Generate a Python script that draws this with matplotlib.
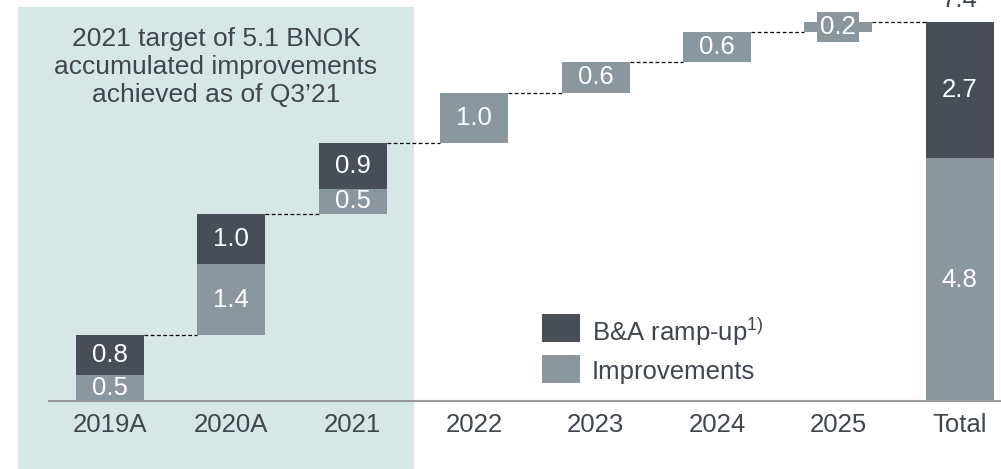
import matplotlib
matplotlib.use('Agg')
import matplotlib.pyplot as plt
import matplotlib.patches as mpatches
import numpy as np

# data (BNOK)
categories = ['2019A', '2020A', '2021', '2022', '2023', '2024', '2025', 'Total']
improvements = [0.5, 1.4, 0.5, 1.0, 0.6, 0.6, 0.2]
ba_rampup = [0.8, 1.0, 0.9, 0.0, 0.0, 0.0, 0.0]
total_improvements = 4.8
total_ba = 2.7
total_label = '7.4'
note = "2021 target of 5.1 BNOK\naccumulated improvements\nachieved as of Q3\u201921"

DARK = '#474e57'
LIGHT = '#8b979f'
SHADE = '#d6e8e6'
TXT = '#40464d'

plt.rcParams['font.family'] = ['Liberation Sans', 'DejaVu Sans']
plt.rcParams['mathtext.fontset'] = 'custom'
plt.rcParams['mathtext.rm'] = 'Liberation Sans'

W, H = 1001, 469
fig = plt.figure(figsize=(W / 100, H / 100), dpi=100)
fs = 18.5


def fx(px):
    return px / W


def fy(py):
    return 1 - py / H


# shaded box behind the historical years
fig.add_artist(mpatches.Rectangle((fx(18), 0), fx(414) - fx(18), fy(7),
                                  transform=fig.transFigure, facecolor=SHADE,
                                  edgecolor='none', zorder=-1))
fig.text(fx(216), fy(27), note, ha='center', va='top', fontsize=19,
         color=TXT, linespacing=1.22)

base_px = 400.7
ax = fig.add_axes([fx(49), fy(base_px), 1 - fx(49), base_px / H])
ax.patch.set_alpha(0)
ax.set_ylim(0, base_px / 50.5)
ax.set_xlim(-0.502, 7.34)

x = np.arange(len(categories))
w = 0.56
label_kw = dict(ha='center', va='center', color='white', fontsize=fs)

level = 0.0
tops = []
for i in range(len(improvements)):
    imp, ba = improvements[i], ba_rampup[i]
    ax.bar(x[i], imp, w, bottom=level, color=LIGHT, zorder=2)
    if imp < 0.3:
        ax.text(x[i], level + imp / 2, f'{imp:.1f}', zorder=3,
                bbox=dict(boxstyle='square,pad=0.12', fc=LIGHT, ec='none'),
                **label_kw)
    else:
        ax.text(x[i], level + imp / 2, f'{imp:.1f}', zorder=3, **label_kw)
    if ba > 0:
        ax.bar(x[i], ba, w, bottom=level + imp, color=DARK, zorder=2)
        ax.text(x[i], level + imp + ba / 2, f'{ba:.1f}', zorder=3, **label_kw)
    level += imp + ba
    tops.append(level)

# total bar
ti = len(categories) - 1
ax.bar(x[ti], total_improvements, w, color=LIGHT, zorder=2)
ax.bar(x[ti], total_ba, w, bottom=total_improvements, color=DARK, zorder=2)
ax.text(x[ti], total_improvements / 2, f'{total_improvements:.1f}', **label_kw)
ax.text(x[ti], total_improvements + total_ba / 2, f'{total_ba:.1f}', **label_kw)
ax.text(x[ti], total_improvements + total_ba + 0.2, total_label, ha='center',
        va='bottom', color=TXT, fontsize=fs, clip_on=False)

# dashed connectors
for i, t in enumerate(tops):
    ax.plot([x[i] + w / 2, x[i + 1] - w / 2], [t, t], color='black',
            lw=0.9, ls=(0, (3, 2)), zorder=1)

ax.set_xticks(x)
ax.set_xticklabels(categories, fontsize=fs, color=TXT)
ax.tick_params(axis='x', length=0, pad=9)
ax.set_yticks([])
for s in ['top', 'right', 'left']:
    ax.spines[s].set_visible(False)
ax.spines['bottom'].set_color('#9a9a9a')
ax.spines['bottom'].set_linewidth(1.5)

# legend drawn by hand
legend_items = [(DARK, r'B&A ramp-up$^{\mathrm{1)}}$'), (LIGHT, 'Improvements')]
for k, (c, lab) in enumerate(legend_items):
    top = 314 + 41 * k
    fig.add_artist(mpatches.Rectangle((fx(542), fy(top + 28)), fx(38), 28 / H,
                                      transform=fig.transFigure, facecolor=c,
                                      edgecolor='none'))
    fig.text(fx(592), fy(top + 14), lab, ha='left', va='center_baseline',
             fontsize=fs, color=TXT)

fig.savefig('out.png', dpi=100)
